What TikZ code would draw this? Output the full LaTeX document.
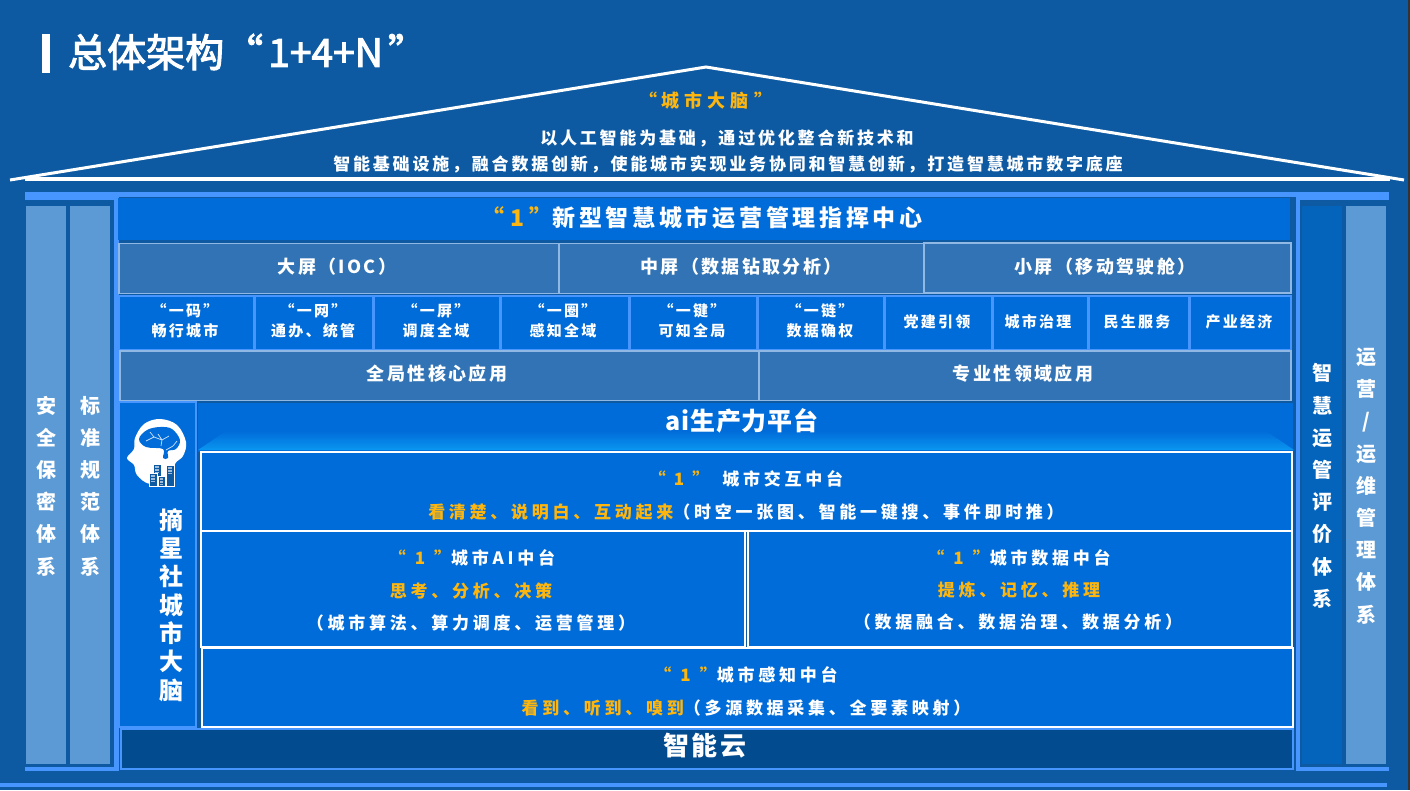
\documentclass[tikz,border=0pt]{standalone}
\usepackage{fontspec}
\usepackage{xcolor}
\newfontfamily\cjk{Noto Sans CJK SC}
\usetikzlibrary{calc}

\definecolor{bgblue}{HTML}{0D5AA3}
\definecolor{barblue}{HTML}{4796FF}
\definecolor{panelblue}{HTML}{006CD9}
\definecolor{greyblue}{HTML}{3173B4}
\definecolor{palecol}{HTML}{5C9AD5}
\definecolor{darkcol}{HTML}{0463BA}
\definecolor{cloudblue}{HTML}{034B8F}
\definecolor{tagorange}{HTML}{FDB60F}
\definecolor{edgepale}{HTML}{8FB8E4}

\newcommand{\cnfont}[3]{\cjk\bfseries\fontsize{#1}{#2}\selectfont\addfontfeature{LetterSpace=#3}}
\newcommand{\tagged}[1]{\textcolor{tagorange}{#1}}
\newcommand{\tagone}[1]{\textcolor{tagorange}{“\hspace{#1}1\hspace{#1}”}}
\newcommand{\thickened}[1]{\special{pdf:code 2 Tr 1 w}#1\special{pdf:code 0 Tr}}

\tikzset{
	txt/.style = {inner sep = 0pt, text = white, align = center},
	headtxt/.style = {txt, font = \cnfont{23}{26}{16}},
	screentxt/.style = {txt, font = \cnfont{18}{20}{13}},
	celltxt/.style = {txt, font = \cnfont{15}{20}{15}},
	rooftxt/.style = {txt, font = \cnfont{17}{20}{16.5}},
	bodytxt/.style = {txt, font = \cnfont{17}{20}{22}},
	coltxt/.style = {txt, font = \cnfont{20}{32.2}{0}},
	brandtxt/.style = {txt, font = \cnfont{24}{28.3}{0}},
	greybox/.style = {fill = greyblue, draw = edgepale, line width = 1.5pt},
	whitebox/.style = {fill = panelblue, draw = white, line width = 2pt},
}

\begin{document}
\begin{tikzpicture}[x = 1pt, y = -1pt]
	\useasboundingbox (0, 0) rectangle (1410, 790);
	\fill [bgblue] (0, 0) rectangle (1410, 790);
	\fill [black!80] (1408, 0) rectangle (1410, 790);

	% heading
	\fill [white] (42, 34) rectangle (50, 73);
	\node [txt, anchor = west, font = \cjk\fontsize{39}{44}\selectfont] (heading) at (68, 52) {\thickened{总体架构“\hspace{5pt}1+4+N\hspace{5pt}”}};

	% roof
	\coordinate (eave left) at (10, 180);
	\coordinate (ridge) at (706, 67);
	\coordinate (eave right) at (1404, 180);
	\draw [white, line width = 3pt] (eave left) -- (ridge) -- (eave right);
	\draw [white, line width = 3.6pt] (25, 179) -- (1390, 179);
	\node [txt, font = \cnfont{18}{20}{28}, text = tagorange] (brain tag) at (706, 101) {“\hspace{4pt}城市大脑\hspace{6pt}”};
	\node [rooftxt] (roof one) at (727, 138) {以人工智能为基础，通过优化整合新技术和};
	\node [rooftxt] (roof two) at (728, 164) {智能基础设施，融合数据创新，使能城市实现业务协同和智慧创新，打造智慧城市数字底座};

	% frame
	\fill [barblue] (25, 192) rectangle (1389, 197);
	\fill [barblue] (25, 192) rectangle (118, 200);
	\fill [barblue] (1296, 192) rectangle (1389, 200);
	\fill [barblue] (114, 192) rectangle (119, 771);
	\fill [barblue] (1296, 192) rectangle (1300, 771);
	\fill [barblue] (25, 767) rectangle (118, 771);
	\fill [barblue] (1296, 767) rectangle (1389, 771);
	\fill [barblue] (0, 783) rectangle (1387, 787);

	% side columns
	\fill [palecol] (26, 206) rectangle (66, 764);
	\fill [palecol] (70, 206) rectangle (110, 764);
	\fill [darkcol] (1302, 206) rectangle (1342, 764);
	\fill [palecol] (1346, 206) rectangle (1386, 764);
	\node [coltxt] (safety) at (46, 486) {安\\全\\保\\密\\体\\系};
	\node [coltxt] (standard) at (90, 486) {标\\准\\规\\范\\体\\系};
	\node [coltxt] (evaluate) at (1322, 486) {智\\慧\\运\\管\\评\\价\\体\\系};
	\node [coltxt] (operate) at (1366, 486) {运\\营\\/\\运\\维\\管\\理\\体\\系};

	% command centre
	\fill [panelblue] (118, 198) rectangle (1290, 240);
	\node [headtxt] (centre) at (702, 218) {\tagone{5.5pt}新型智慧城市运营管理指挥中心};
	\draw [greybox] (119, 243.5) rectangle (559, 293.5);
	\draw [greybox] (559, 243.5) rectangle (924, 293.5);
	\draw [greybox] (924, 243) rectangle (1291, 293);
	\node [screentxt] (large) at (337, 267) {大屏（IOC）};
	\node [screentxt] (medium) at (741, 267) {中屏（数据钻取分析）};
	\node [screentxt] (small) at (1105, 267) {小屏（移动驾驶舱）};

	% application cells
	\fill [barblue] (118, 295) rectangle (1292, 352);
	\foreach \xa/\xb in {120/253, 256/372, 375/499, 502/628, 631/756, 759/883, 886/991, 994/1087, 1090/1188, 1191/1290}
		\fill [panelblue] (\xa, 297) rectangle (\xb, 349);
	\node [celltxt] (code) at (185, 321) {“一码”\\畅行城市};
	\node [celltxt] (net) at (313, 321) {“一网”\\通办、统管};
	\node [celltxt] (screen) at (436, 321) {“一屏”\\调度全域};
	\node [celltxt] (circle) at (563, 321) {“一圈”\\感知全域};
	\node [celltxt] (key) at (692, 321) {“一键”\\可知全局};
	\node [celltxt] (chain) at (820, 321) {“一链”\\数据确权};
	\node [celltxt] (party) at (937, 322) {党建引领};
	\node [celltxt] (govern) at (1038, 322) {城市治理};
	\node [celltxt] (people) at (1137, 322) {民生服务};
	\node [celltxt] (industry) at (1239, 322) {产业经济};
	\draw [greybox] (120, 351) rectangle (759, 400.5);
	\draw [greybox] (759, 351) rectangle (1291, 400.5);
	\node [screentxt] (core) at (437, 374) {全局性核心应用};
	\node [screentxt] (domain) at (1023, 374) {专业性领域应用};

	% brain panel
	\fill [barblue] (118, 401) rectangle (197, 728);
	\fill [panelblue] (120, 403) rectangle (195, 726);
	\fill [bgblue] (197, 402) rectangle (200, 728);
	\fill [white] plot [smooth cycle, tension = 0.6] coordinates {(127, 458) (134, 449) (135, 438) (144, 424) (160, 419) (177, 425) (186, 442) (183, 456) (175, 464) (172, 481) (150, 484) (137, 475) (134, 465)};
	\fill [panelblue] plot [smooth cycle, tension = 0.6] coordinates {(139, 439) (147, 430) (160, 427) (172, 429) (180, 440) (176, 449) (168, 451) (168, 458) (163, 458) (163, 449) (146, 447)};
	\draw [white!80!panelblue, line width = 0.7pt] (146, 441) -- (154, 437) -- (162, 440) -- (169, 436) (154, 437) -- (150, 432) (162, 440) -- (161, 446) (173, 446) -- (166, 450) (173, 446) -- (177, 441) (162, 440) -- (158, 434);
	\foreach \xa/\ya/\xb/\yb in {153/464/161/476, 149/473/157/486, 158/476/165/486, 166/465/174/486} {
		\fill [bgblue, draw = white, line width = 0.6pt] (\xa, \ya) rectangle (\xb, \yb);
		\fill [white, opacity = 0.6] ($(\xa, \ya) + (2, 2)$) rectangle ($(\xb, \ya) + (-2, 3.5)$);
		\fill [white, opacity = 0.6] ($(\xa, \ya) + (2, 5)$) rectangle ($(\xb, \ya) + (-2, 6.5)$);
		\fill [white, opacity = 0.6] ($(\xa, \ya) + (2, 8)$) rectangle ($(\xb, \ya) + (-2, 9)$);
	}
	\node [brandtxt] (brand name) at (171, 605) {摘\\星\\社\\城\\市\\大\\脑};

	% ai platform
	\fill [panelblue] (198, 403) rectangle (1293, 452);
	\shade [bottom color = {rgb,255:red,10;green,150;blue,240}, top color = panelblue] (198, 450) -- (226, 431) -- (1266, 431) -- (1294, 450) -- cycle;
	\node [txt, font = \cnfont{25}{28}{3}] (ai) at (742, 421) {ai生产力平台};

	% middle platforms
	\draw [whitebox] (201, 452) rectangle (1292, 530.5);
	\draw [whitebox] (201, 531) rectangle (745, 647);
	\draw [whitebox] (748, 531) rectangle (1292, 647);
	\draw [whitebox] (202, 648) rectangle (1293, 727);
	\node [bodytxt] (mutual title) at (746, 479) {\tagone{8pt}\hspace{13pt}城市交互中台};
	\node [bodytxt] (mutual text) at (746, 512) {\tagged{看清楚、说明白、互动起来}（时空一张图、智能一键搜、事件即时推）};
	\node [bodytxt] (ai title) at (472, 558) {\tagone{9pt}城市AI中台};
	\node [bodytxt] (ai role) at (471, 591) {\tagged{思考、分析、决策}};
	\node [bodytxt] (ai text) at (471, 623) {（城市算法、算力调度、运营管理）};
	\node [bodytxt] (data title) at (1019, 558) {\tagone{9pt}城市数据中台};
	\node [bodytxt] (data role) at (1019, 590) {\tagged{提炼、记忆、推理}};
	\node [bodytxt] (data text) at (1018, 622) {（数据融合、数据治理、数据分析）};
	\node [bodytxt] (sense title) at (746, 675) {\tagone{9pt}城市感知中台};
	\node [bodytxt] (sense text) at (746, 708) {\tagged{看到、听到、嗅到}（多源数据采集、全要素映射）};

	% cloud
	\fill [cloudblue, draw = barblue, line width = 1.4pt] (121, 729) rectangle (1293, 769);
	\node [txt, font = \cnfont{26}{30}{8}] (cloud) at (705, 746) {智能云};
\end{tikzpicture}
\end{document}
